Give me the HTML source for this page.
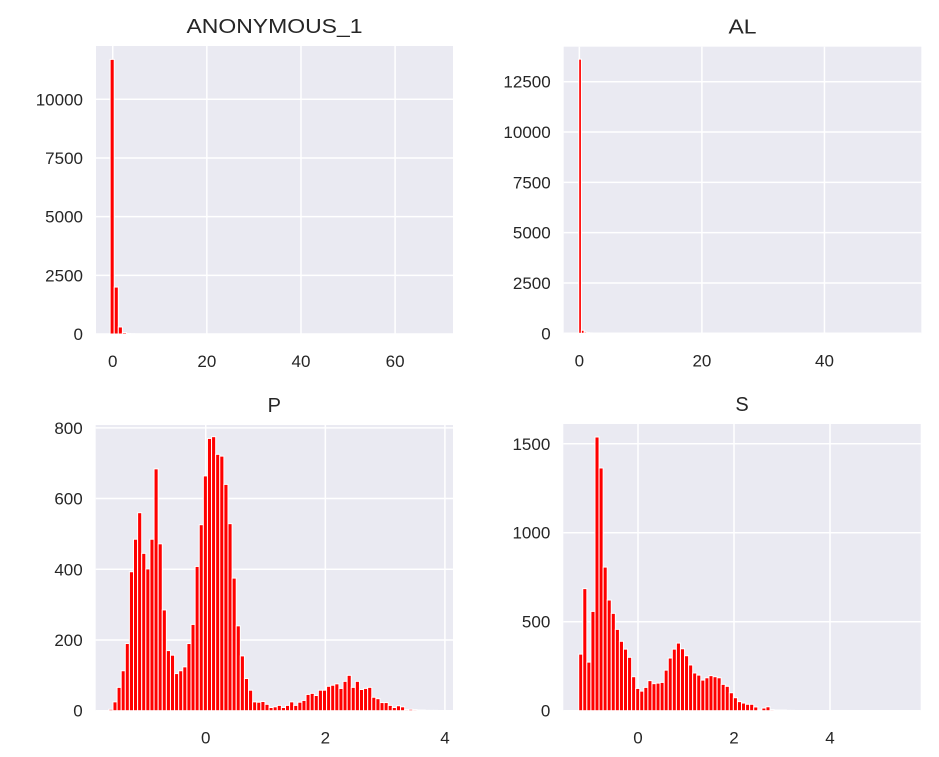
<!DOCTYPE html>
<html><head><meta charset="utf-8"><style>
body{margin:0;background:#fff;}
svg text{font-family:"Liberation Sans","Noto Sans CJK KR",sans-serif;fill:#262626;}
</style></head><body>
<svg id="fig" width="939" height="752" xmlns="http://www.w3.org/2000/svg"></svg>
<script>
// ---- data ----
const alBins = [13620,150,60,30,18,10,6,4,3,2,2,1,1,1,1];
const anonBins = [11700,2000,300,60,20,10,5,3,2,1,1,1];
const pBins = [4,25,66,113,190,393,485,560,445,401,485,684,472,285,170,157,105,113,124,190,244,408,526,664,770,775,725,720,640,529,375,240,155,91,58,25,24,26,18,9,11,15,9,15,25,15,24,29,46,49,43,58,58,69,72,76,63,83,100,66,83,60,63,66,38,34,23,23,15,9,14,11,3,4,3,2,2,1,1,1];
const sBins = [318,686,273,558,1538,1364,807,622,547,457,390,346,300,191,125,110,131,169,152,155,159,228,296,346,380,348,309,257,212,200,172,185,197,191,185,148,137,101,73,51,43,36,36,21,4,15,22,6,4,4,4,2,2,1,1,1,1,1,1,1,1,1,1,1,1,1];
const anonXTicks = [0,20,40,60];
const anonYTicks = [0,2500,5000,7500,10000];
const alXTicks = [0,20,40];
const alYTicks = [0,2500,5000,7500,10000,12500];
const pXTicks = [0,2,4];
const pYTicks = [0,200,400,600,800];
const sXTicks = [0,2,4];
const sYTicks = [0,500,1000,1500];

const NS="http://www.w3.org/2000/svg";
const fig=document.getElementById('fig');
function mk(tag,attrs,parent){const e=document.createElementNS(NS,tag);for(const k in attrs)e.setAttribute(k,attrs[k]);(parent||fig).appendChild(e);return e;}

const panels=[
 {name:'anonymous-1',title:'ANONYMOUS_1',tw:176,data:anonBins,start:-0.55,w:0.87,xd:[-3.55,72.3],xp:[96,453],yd:[0,12270],yp:[334,46],xt:anonXTicks,yt:anonYTicks},
 {name:'al',title:'AL',tw:28,data:alBins,start:-0.1,w:0.44,xd:[-2.55,55.8],xp:[563.7,921.3],yd:[0,14240],yp:[333.3,46.7],xt:alXTicks,yt:alYTicks},
 {name:'p',title:'P',tw:0,data:pBins,start:-1.62,w:0.0687,xd:[-1.84,4.135],xp:[95.7,453],yd:[0,808],yp:[710.7,425],xt:pXTicks,yt:pYTicks},
 {name:'s',title:'S',tw:0,data:sBins,start:-1.235,w:0.0848,xd:[-1.556,5.89],xp:[563.3,920.7],yd:[0,1611],yp:[710.7,424],xt:sXTicks,yt:sYTicks}
];
panels.forEach(p=>{
 const sx=v=>p.xp[0]+(v-p.xd[0])/(p.xd[1]-p.xd[0])*(p.xp[1]-p.xp[0]);
 const sy=v=>p.yp[0]+(v-p.yd[0])/(p.yd[1]-p.yd[0])*(p.yp[1]-p.yp[0]);
 const g=mk('g',{});
 
 
 const bg=mk('rect',{x:p.xp[0],y:p.yp[1],width:p.xp[1]-p.xp[0],height:p.yp[0]-p.yp[1],fill:'#eaeaf2'},g);
 
 
 p.yt.forEach(t=>{
  const y=sy(t);
  const l=mk('line',{x1:p.xp[0],x2:p.xp[1],y1:y,y2:y,stroke:'#fff','stroke-width':1.5},g);
  
  
  const tx=mk('text',{x:p.xp[0]-13,y:y+6,'text-anchor':'end','font-size':17},g);
  tx.textContent=t;
  
  
 });
 p.xt.forEach(t=>{
  const x=sx(t);
  const l=mk('line',{x1:x,x2:x,y1:p.yp[1],y2:p.yp[0],stroke:'#fff','stroke-width':1.5},g);
  
  
  const tx=mk('text',{x:x,y:p.yp[0]+33,'text-anchor':'middle','font-size':17},g);
  tx.textContent=t;
  
  
 });
 p.data.forEach((v,i)=>{
  const x0=sx(p.start+i*p.w), x1=sx(p.start+(i+1)*p.w);
  const r=mk('rect',{x:x0,y:sy(v),width:Math.max(x1-x0,0.1),height:sy(0)-sy(v),fill:'#ff0000',stroke:'#fff','stroke-width':1},g);
  
  
 });
 const cx=(p.xp[0]+p.xp[1])/2;
 const attrs={x:cx,y:p.yp[1]-13,'text-anchor':'middle','font-size':20};
 if(p.tw) {attrs.textLength=p.tw;attrs.lengthAdjust='spacingAndGlyphs';}
 const tt=mk('text',attrs,g);
 tt.textContent=p.title;
 
 
});
</script>
</body></html>
